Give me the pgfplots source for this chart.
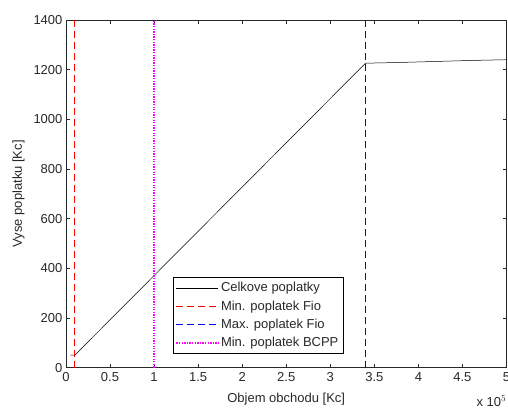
\documentclass[border=0pt]{standalone}
\usepackage{pgfplots}
\pgfplotsset{compat=1.18}
\usepackage{fontspec}
\setmainfont{Liberation Sans}
\definecolor{linered}{RGB}{255,0,0}
\definecolor{lineblue}{RGB}{0,0,255}
\definecolor{linemag}{RGB}{255,0,255}
\definecolor{axgray}{RGB}{40,40,40}
\begin{document}
\begin{tikzpicture}[x=1pt,y=1pt]
\path[use as bounding box] (-66,-42) rectangle (442.5,368);
\begin{axis}[
  at={(0,0)}, anchor=origin,
  scale only axis, width=441pt, height=348pt,
  xmin=0, xmax=500000, ymin=0, ymax=1400,
  xtick={0,50000,100000,150000,200000,250000,300000,350000,400000,450000,500000},
  xticklabels={0,0.5,1,1.5,2,2.5,3,3.5,4,4.5,5},
  ytick={0,200,400,600,800,1000,1200,1400},
  scaled x ticks=false,
  tick align=inside, major tick length=4pt,
  axis line style={axgray, line width=0.6pt},
  every tick/.style={axgray, line width=0.6pt},
  /pgf/number format/assume math mode=true,
  /pgf/number format/1000 sep={},
  tick label style={font=\fontsize{13}{15}\selectfont, text=axgray},
  xticklabel style={yshift=-1pt},
  label style={font=\fontsize{13}{15}\selectfont, text=axgray},
  xlabel={Objem obchodu [Kc]},
  ylabel={Vyse poplatku [Kc]},
  xlabel style={yshift=-5pt},
  ylabel style={yshift=2pt},
  legend style={at={(rel axis cs:0.242,0.04)}, anchor=south west,
    font=\fontsize{13}{15}\selectfont, draw=black, line width=0.6pt,
    inner xsep=3pt, inner ysep=3pt, row sep=3.5pt, text=axgray},
  legend cell align=left,
  legend image code/.code={\draw[#1] (0pt,0pt) -- (42pt,0pt);},
  clip=true,
]
\addplot[color=black, line width=0.5pt] coordinates {
 (5000,50) (10000,50) (340000,1226) (380000,1229) (420000,1233) (460000,1237) (500000,1240)
};
\addlegendentry{Celkove poplatky}
\addplot[color=linered, line width=0.6pt, dash pattern=on 7pt off 4pt] coordinates {(10000,0) (10000,1400)};
\addlegendentry{Min. poplatek Fio}
\addplot[color=lineblue, line width=0.6pt, dash pattern=on 7pt off 4pt] coordinates {(340000,0) (340000,1400)};
\addlegendentry{Max. poplatek Fio}
\addplot[color=linemag, line width=1.2pt, dash pattern=on 1.3pt off 1.3pt] coordinates {(100000,0) (100000,1400)};
\addlegendentry{Min. poplatek BCPP}
\end{axis}
\node[anchor=south east, font=\fontsize{13}{15}\selectfont, text=axgray, inner sep=0pt] at (441,-39) {x 10$^{5}$};
\end{tikzpicture}
\end{document}
